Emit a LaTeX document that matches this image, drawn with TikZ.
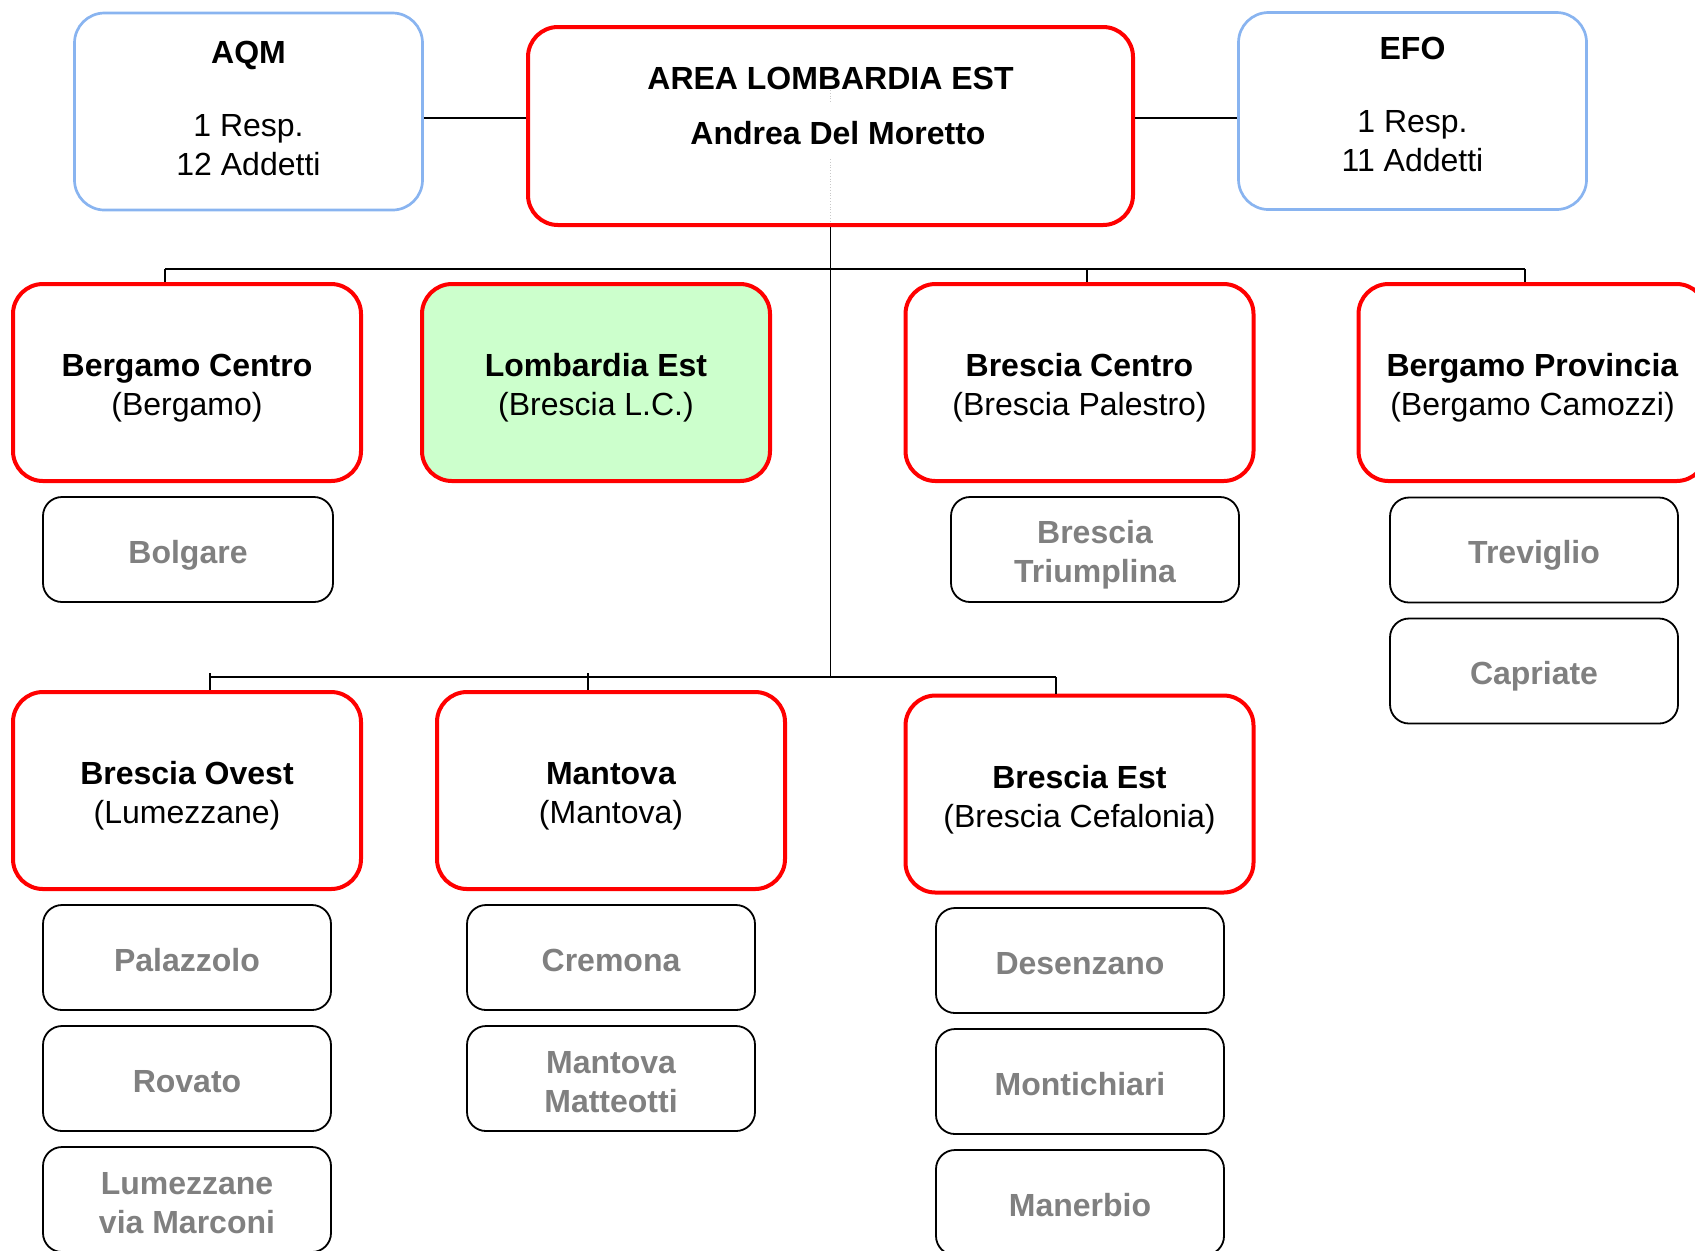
\documentclass[tikz,border=0pt]{standalone}
\usepackage{fontspec}
\setmainfont{Liberation Sans}
\definecolor{unitred}{RGB}{255,0,0}
\definecolor{staffblue}{RGB}{137,180,240}
\definecolor{hqgreen}{RGB}{204,255,204}
\definecolor{branchgray}{RGB}{128,128,128}
\definecolor{guidegray}{RGB}{200,200,200}
% invisible struts that give every label the same top and bottom
\newcommand\strutT{\rule{0pt}{17pt}}
\newcommand\strutB{\rule[-3pt]{0pt}{3pt}}
\begin{document}
\begin{tikzpicture}[x=0.5pt,y=-0.5pt,
  font=\fontsize{16}{19.5}\selectfont,
  unitbox/.style={draw=unitred, line width=2pt, rounded corners=15pt,
    minimum width=174pt, minimum height=98.5pt, align=center, inner sep=0pt},
  staffbox/.style={draw=staffblue, line width=1.35pt, rounded corners=15pt,
    minimum width=174pt, minimum height=98.5pt, align=center, inner sep=0pt},
  branchbox/.style={draw=black, line width=0.9pt, rounded corners=9.5pt,
    minimum width=144pt, minimum height=52.5pt, align=center, inner sep=0pt,
    text=branchgray, font=\fontsize{16}{19.5}\selectfont\bfseries},
  headtext/.style={font=\fontsize{16}{19.5}\selectfont\bfseries, inner sep=0pt},
  link/.style={draw=black, line width=0.8pt},
]
\useasboundingbox (0,0) rectangle (1695,1250);
\clip (0,0) rectangle (1695,1250);

% rows of the connector buses
\coordinate (topline) at (0,118);
\coordinate (busA) at (0,269);
\coordinate (busB) at (0,677);

% head of the area and staff offices
\node[unitbox, minimum width=302.5pt, minimum height=99pt] (area) at (830.5,126) {};
\node[headtext] (areatitle) at (830.5,78) {AREA LOMBARDIA EST};
\node[headtext] (areahead) at (838,133) {Andrea Del Moretto};
\node[staffbox] (aqm) at (248.5,111.5)
  {\textbf{AQM}\\[17pt]1 Resp.\\12 Addetti\rule[-3.2pt]{0pt}{3.2pt}};
\node[staffbox] (efo) at (1412.5,111)
  {\textbf{EFO}\\[17pt]1 Resp.\\11 Addetti\rule[-6.4pt]{0pt}{6.4pt}};

% faint guide through the head box
\draw[guidegray, line width=0.4pt, densely dotted] (830.5,90) -- (830.5,103);
\draw[guidegray, line width=0.4pt, densely dotted] (830.5,159) -- (830.5,222);

% first row of units
\node[unitbox] (bgc) at (187,382.5) {\strutT\textbf{Bergamo Centro}\\(Bergamo)\strutB};
\node[unitbox, fill=hqgreen] (lme) at (596,382.5) {\strutT\textbf{Lombardia Est}\\(Brescia L.C.)\strutB};
\node[unitbox] (bsc) at (1079.5,382.5) {\strutT\textbf{Brescia Centro}\\(Brescia Palestro)\strutB};
\node[unitbox] (bgp) at (1532.5,382.5) {\strutT\textbf{Bergamo Provincia}\\(Bergamo Camozzi)\strutB};

% second row of units
\node[unitbox] (bso) at (187,790.5) {\strutT\textbf{Brescia Ovest}\\(Lumezzane)\strutB};
\node[unitbox] (mnt) at (611,790.5) {\strutT\textbf{Mantova}\\(Mantova)\strutB};
\node[unitbox] (bse) at (1079.5,794) {\strutT\textbf{Brescia Est}\\(Brescia Cefalonia)\strutB};

% branches
\node[branchbox, minimum width=145pt] (bolgare) at (188,549.5) {\strutT Bolgare\strutB};
\node[branchbox] (triumplina) at (1095,549.5) {\strutT Brescia\\Triumplina\strutB};
\node[branchbox] (treviglio) at (1534,550) {\strutT Treviglio\strutB};
\node[branchbox] (capriate) at (1534,671) {\strutT Capriate\strutB};
\node[branchbox] (palazzolo) at (187,957.5) {\strutT Palazzolo\strutB};
\node[branchbox] (rovato) at (187,1078.5) {\strutT Rovato\strutB};
\node[branchbox] (lumezzane) at (187,1199.5) {\strutT Lumezzane\\via Marconi\strutB};
\node[branchbox] (cremona) at (611,957.5) {\strutT Cremona\strutB};
\node[branchbox] (matteotti) at (611,1078.5) {\strutT Mantova\\Matteotti\strutB};
\node[branchbox] (desenzano) at (1080,960.5) {\strutT Desenzano\strutB};
\node[branchbox] (montichiari) at (1080,1081.5) {\strutT Montichiari\strutB};
\node[branchbox] (manerbio) at (1080,1202.5) {\strutT Manerbio\strutB};

% staff links
\draw[link] (aqm.east |- topline) -- (area.west |- topline);
\draw[link] (area.east |- topline) -- (efo.west |- topline);

% trunk from the head down to the second bus
\draw[link] (area.south) -- (area.south |- busB);

% first bus and its drops
\coordinate (dA1) at (165,269);
\coordinate (dA2) at (1087,269);
\coordinate (dA3) at (1525,269);
\draw[link] (dA1) -- (dA3);
\draw[link] (dA1) -- (dA1 |- bgc.north);
\draw[link] (dA2) -- (dA2 |- bsc.north);
\draw[link] (dA3) -- (dA3 |- bgp.north);

% second bus and its drops
\coordinate (dB1) at (210,677);
\coordinate (dB2) at (588,677);
\coordinate (dB3) at (1056,677);
\draw[link] (dB1) -- (dB3);
\draw[link] (210,673) -- (dB1 |- bso.north);
\draw[link] (588,673) -- (dB2 |- mnt.north);
\draw[link] (dB3) -- (dB3 |- bse.north);
\end{tikzpicture}
\end{document}
